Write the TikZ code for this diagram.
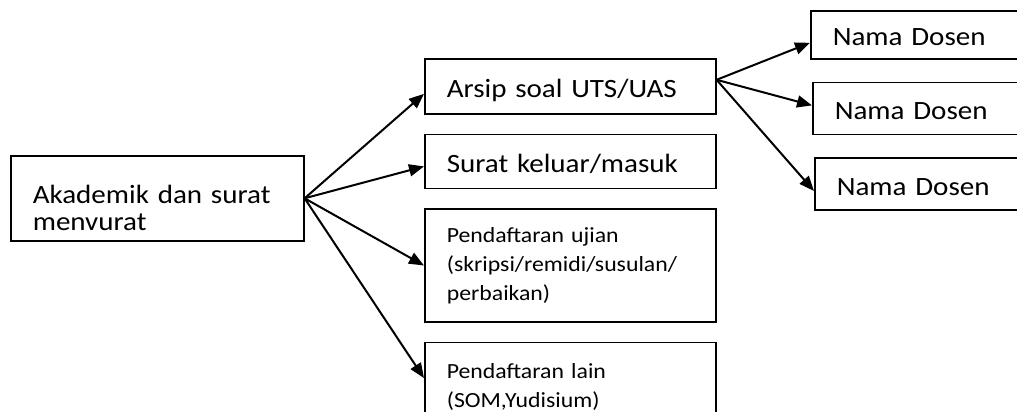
\documentclass[tikz,border=0pt]{standalone}
\usepackage{fontspec}
\setmainfont{Carlito}[FakeStretch=1.1]
\usetikzlibrary{positioning,arrows.meta}

\tikzset{
    box/.style={draw, line width=0.8pt, rectangle, align=left,
        inner xsep=11pt, inner ysep=0pt},
    big/.style={font=\fontsize{13.2}{13.5}\selectfont,
        text height=11pt, text depth=0pt},
    small/.style={font=\fontsize{10.8}{14.5}\selectfont},
    arr/.style={-{Triangle[length=7.5pt,width=6pt]}, line width=1pt},
}

\begin{document}
\begin{tikzpicture}[x=0.5pt,y=-0.5pt,node distance=9.5pt]
    \useasboundingbox (0,0) rectangle (1017,412);
    \clip (0,0) rectangle (1017,412);

    \node[box,big,anchor=north west,text width=124.5pt,minimum height=42.5pt,
        text height=19pt,text depth=13.5pt]
        (root) at (10,155) {Akademik dan surat\\menvurat};

    \node[box,big,anchor=north west,text width=123.5pt,minimum height=27.5pt]
        (arsip) at (424,58) {Arsip soal UTS/UAS};
    \node[box,big,text width=123.5pt,minimum height=27pt]
        (surat) [below = of arsip] {Surat keluar/masuk};
    \node[box,small,text width=123.5pt,minimum height=56.5pt]
        (ujian) [below = of surat] {Pendaftaran ujian\\(skripsi/remidi/susulan/\\perbaikan)};
    \node[box,small,text width=123.5pt,minimum height=44pt]
        (lain) [below = of ujian] {Pendaftaran lain\\(SOM,Yudisium)};

    \node[box,big,anchor=north west,text width=103pt,minimum height=24pt]
        (dosen1) at (810,10) {Nama Dosen};
    \node[box,big,text width=103pt,minimum height=26pt]
        (dosen2) [below right = 11pt and 1pt of dosen1.south west] {Nama Dosen};
    \node[box,big,text width=103pt,minimum height=26pt]
        (dosen3) [below right = 11pt and 1pt of dosen2.south west] {Nama Dosen};

    % akademik -> layanan
    \draw[arr] (root.east) -- ([yshift=-3.75pt]arsip.west);
    \draw[arr] (root.east) -- ([yshift=-2.5pt]surat.west);
    \draw[arr] (root.east) -- (ujian.west);
    \draw[arr] (root.east) -- ([yshift=4.25pt]lain.west);

    % arsip -> dosen
    \draw[arr] ([yshift=3.25pt]arsip.east) -- ([yshift=-4pt]dosen1.west);
    \draw[arr] ([yshift=3.25pt]arsip.east) -- ([yshift=1.5pt]dosen2.west);
    \draw[arr] ([yshift=3.25pt]arsip.east) -- ([yshift=-3.5pt]dosen3.west);
\end{tikzpicture}
\end{document}
